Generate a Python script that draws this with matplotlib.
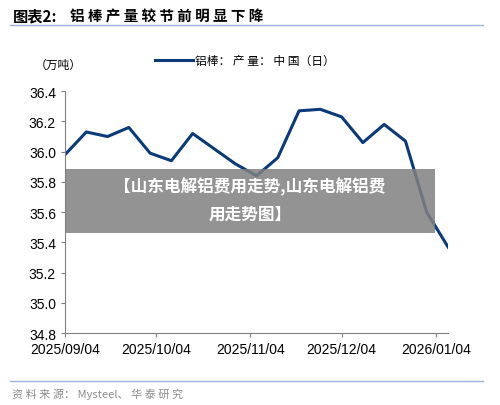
import numpy as np
import matplotlib.pyplot as plt
from matplotlib.patches import Rectangle
from matplotlib.lines import Line2D

plt.rcParams['font.family'] = ['Noto Sans CJK SC', 'DejaVu Sans']

dates = np.arange(np.datetime64('2025-09-04'), np.datetime64('2026-01-09'), np.timedelta64(7, 'D'))
values = [35.98, 36.13, 36.10, 36.16, 35.99, 35.94, 36.12, 36.02, 35.92, 35.84,
          35.96, 36.27, 36.28, 36.23, 36.06, 36.18, 36.07, 35.60, 35.37]
tick_dates = ['2025-09-04', '2025-10-04', '2025-11-04', '2025-12-04', '2026-01-04']
tick_labels = ['2025/09/04', '2025/10/04', '2025/11/04', '2025/12/04', '2026/01/04']

fig = plt.figure(figsize=(5, 4.06), dpi=100)
ax = fig.add_axes([0.13, 0.177, 0.766, 0.596])
ax.plot(dates.astype('datetime64[D]').astype(object), values, color='#0b3a7a', lw=2.2)
ax.set_ylim(34.8, 36.4)
ax.set_yticks(np.arange(34.8, 36.41, 0.2))
ax.set_yticklabels([f'{v:.1f}' for v in np.arange(34.8, 36.41, 0.2)], family='Liberation Sans', fontsize=10)
ax.set_xlim(np.datetime64('2025-09-04').astype(object), np.datetime64('2026-01-08').astype(object))
ax.set_xticks([np.datetime64(d).astype(object) for d in tick_dates])
ax.set_xticklabels(tick_labels, family='Liberation Sans', fontsize=10)
for s in ['top', 'right']:
    ax.spines[s].set_visible(False)
for s in ['left', 'bottom']:
    ax.spines[s].set_color('#808080')
ax.tick_params(colors='#808080', labelcolor='black', length=3)

fig.text(0.025, 0.96, '图表2:', fontsize=11, weight='bold', va='center')
fig.text(0.14, 0.96, '铝 棒 产 量 较 节 前 明 显 下 降', fontsize=10.5, weight='bold', va='center')
fig.add_artist(Line2D([0.02, 0.965], [0.935, 0.935], color='#9bb3d4', lw=1))
fig.add_artist(Line2D([0.02, 0.965], [0.06, 0.06], color='#9bb3d4', lw=1))
fig.text(0.025, 0.03, '资 料 来 源： Mysteel、 华 泰 研 究', fontsize=8, color='#8c8c8c', va='center')
fig.text(0.07, 0.84, '（万吨）', fontsize=8.5, va='center')
fig.add_artist(Line2D([0.31, 0.385], [0.85, 0.85], color='#0b3a7a', lw=2.2))
fig.text(0.39, 0.85, '铝棒： 产 量： 中 国（日）', fontsize=8.5, va='center')

fig.add_artist(Rectangle((0.13, 0.423), 0.74, 0.158, transform=fig.transFigure,
                         facecolor='#808080', edgecolor='none', alpha=0.85))
fig.text(0.5, 0.54, '【山东电解铝费用走势,山东电解铝费', fontsize=12, weight='bold',
         color='white', ha='center', va='center')
fig.text(0.5, 0.472, '用走势图】', fontsize=12, weight='bold', color='white', ha='center', va='center')

fig.savefig('out.png', dpi=100)
